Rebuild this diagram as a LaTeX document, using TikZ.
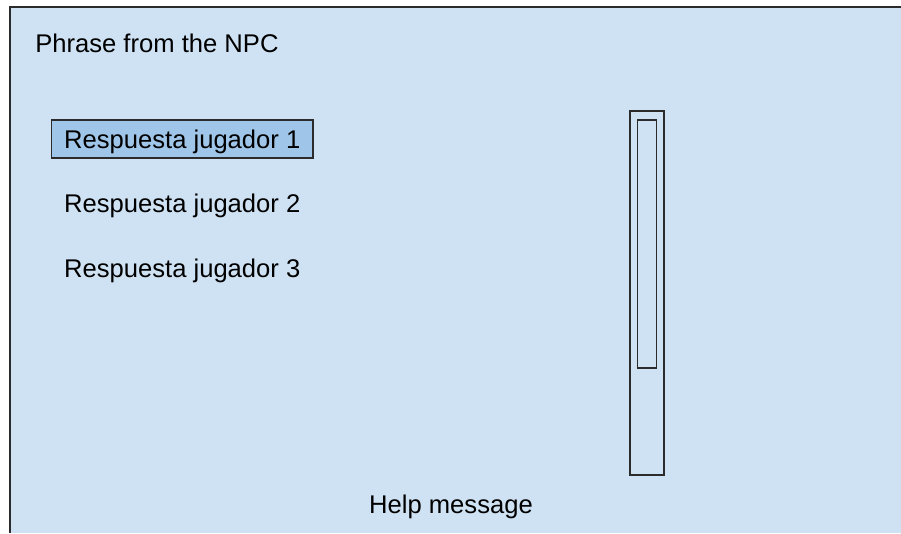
\documentclass[tikz,border=0pt]{standalone}
\usepackage{fontspec}
\setmainfont{Liberation Sans}
\usetikzlibrary{positioning}

\definecolor{panelblue}{HTML}{CFE2F3}
\definecolor{pickblue}{HTML}{9FC5E8}
\definecolor{edgegrey}{HTML}{2B2B2B}

\tikzset{
	txt/.style={font=\fontsize{19.2}{23}\selectfont, inner sep=0pt},
	choice/.style={txt, inner xsep=9.4pt, inner ysep=3.5pt, text height=17.5pt, text depth=4pt},
	picked/.style={draw=edgegrey, fill=pickblue, line width=0.9pt},
	bar/.style={draw=edgegrey, line width=1pt, inner sep=0pt},
}

\begin{document}
\begin{tikzpicture}[x=0.75pt, y=-0.75pt]
		\useasboundingbox (0,0) rectangle (901,533);
		\fill[white] (0,0) rectangle (901,533);
		\fill[panelblue] (10,7) rectangle (901,533);
		\draw[edgegrey, line width=1pt] (901,7) -- (10,7) -- (10,533);

		\node[txt, anchor=base west] (npc) at (35,52) {Phrase from the NPC};
		\node[choice, picked, anchor=base west] (r1) at (51,148) {Respuesta jugador 1};
		\node[choice, below=19.5pt of r1] (r2) {Respuesta jugador 2};
		\node[choice, below=19.5pt of r2] (r3) {Respuesta jugador 3};

		\node[bar, minimum width=25.5pt, minimum height=273pt] (track) at (647,293) {};
		\node[bar, minimum width=14.25pt, minimum height=186pt, below=6.75pt of track.north] (thumb) {};

		\node[txt, anchor=base] (help) at (451,513) {Help message};
	\end{tikzpicture}
\end{document}
